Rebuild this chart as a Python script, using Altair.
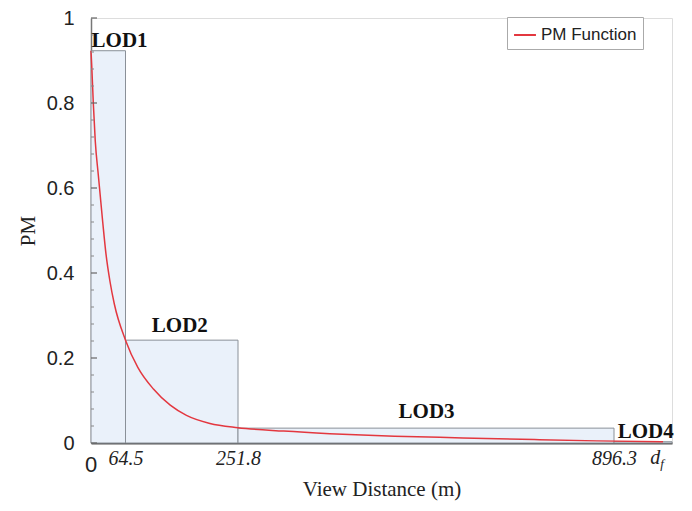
import altair as alt
import pandas as pd

# LOD bands
lod_names = ["LOD1", "LOD2", "LOD3", "LOD4"]
lod_start = [0, 64.5, 251.8, 896.3]
lod_end = [64.5, 251.8, 896.3, 1000]
lod_height = [0.923, 0.242, 0.035, 0.003]

# LOD label positions
lab_x = [1, 155, 575, 903]
lab_y = [0.947, 0.275, 0.072, 0.026]
lab_align = ["left", "center", "center", "left"]

# PM function curve
curve_x = [0, 1.3, 4.3, 8, 13.7, 21.9, 28, 35.5, 43.6, 64.5, 85, 111, 139, 166, 205,
           251.8, 330, 409, 520, 637, 760, 867, 984]
curve_y = [0.923, 0.89, 0.80, 0.71, 0.63, 0.52, 0.445, 0.38, 0.327, 0.242, 0.178,
           0.127, 0.089, 0.065, 0.046, 0.036, 0.028, 0.022, 0.016, 0.012, 0.008, 0.005, 0.003]

# axis breakpoints (the reference x axis is drawn piecewise between these ticks)
x_breaks = [0, 64.5, 251.8, 896.3, 1000]
x_ticks = [64.5, 251.8, 896.3]
y_major = [0, 0.2, 0.4, 0.6, 0.8, 1.0]
y_minor = [0.04, 0.08, 0.12, 0.16, 0.24, 0.28, 0.32, 0.36, 0.44, 0.48, 0.52, 0.56,
           0.64, 0.68, 0.72, 0.76, 0.84, 0.88, 0.92, 0.96]

W, H = 581, 425

bars = pd.DataFrame({"name": lod_names, "x0": lod_start, "x1": lod_end, "h": lod_height})
labels = pd.DataFrame({"name": lod_names, "x": lab_x, "y": lab_y, "align": lab_align})
curve = pd.DataFrame({"d": curve_x, "pm": curve_y, "series": "PM Function"})

xs = alt.Scale(domain=x_breaks, range=[0, 34.5, 147, 523, W], nice=False, zero=False)
ys = alt.Scale(domain=[0, 1], nice=False)

xaxis = alt.Axis(values=x_ticks, format=".1f", labelFont="Liberation Serif", labelFontStyle="italic",
                 labelFontSize=20, labelColor="#222", tickSize=0, labelPadding=5, grid=False,
                 domainColor="#555", domainWidth=2, title="View Distance (m)",
                 titleFont="Liberation Serif", titleFontSize=21, titleFontWeight="normal",
                 titleColor="#222", titlePadding=10)
yaxis = alt.Axis(values=y_major, format="~g", labelFont="Liberation Sans", labelFontSize=20,
                 labelColor="#222", tickSize=0, labelPadding=17, grid=False,
                 domainColor="#777", domainWidth=1.5, title="PM", titleFont="Liberation Serif",
                 titleFontSize=21, titleFontWeight="normal", titleColor="#222", titlePadding=8)

rects = alt.Chart(bars).mark_rect(fill="#eaf1fa", stroke="#8a9098", strokeWidth=1).encode(
    x=alt.X("x0:Q", scale=xs, axis=xaxis),
    x2="x1:Q",
    y=alt.Y("h:Q", scale=ys, axis=yaxis),
    y2=alt.datum(0),
)

line = alt.Chart(curve).mark_line(strokeWidth=1.5, interpolate="monotone").encode(
    x=alt.X("d:Q", scale=xs),
    y=alt.Y("pm:Q", scale=ys),
    color=alt.Color("series:N", scale=alt.Scale(range=["#e3373f"]),
                    legend=alt.Legend(title=None, orient="none", legendX=416, legendY=-1,
                                      strokeColor="#aaa", fillColor="white", padding=6,
                                      symbolType="stroke", symbolStrokeWidth=2, symbolSize=480,
                                      labelFont="Liberation Sans", labelFontSize=17,
                                      labelColor="#222")),
)

text_l = alt.Chart(labels[labels["align"] == "left"]).mark_text(
    font="Liberation Serif", fontSize=21, fontWeight="bold", align="left", baseline="middle",
    color="#111").encode(x=alt.X("x:Q", scale=xs), y=alt.Y("y:Q", scale=ys), text="name:N")
text_c = alt.Chart(labels[labels["align"] == "center"]).mark_text(
    font="Liberation Serif", fontSize=21, fontWeight="bold", align="center", baseline="middle",
    color="#111").encode(x=alt.X("x:Q", scale=xs), y=alt.Y("y:Q", scale=ys), text="name:N")

major = alt.Chart(pd.DataFrame({"v": y_major})).mark_rule(color="#666", strokeWidth=1.2).encode(
    y=alt.Y("v:Q", scale=ys), x=alt.value(0), x2=alt.value(6))
minor = alt.Chart(pd.DataFrame({"v": y_minor})).mark_rule(color="#888", strokeWidth=1).encode(
    y=alt.Y("v:Q", scale=ys), x=alt.value(0), x2=alt.value(3))

zero_lab = alt.Chart(pd.DataFrame({"x": [0], "t": ["0"]})).mark_text(
    font="Liberation Sans", fontSize=22, align="center", baseline="middle", color="#222").encode(
    x=alt.X("x:Q", scale=xs), y=alt.value(H + 22), text="t:N")
d_lab = alt.Chart(pd.DataFrame({"x": [970], "t": ["d"]})).mark_text(
    font="Liberation Serif", fontSize=20, fontStyle="italic", align="center", baseline="middle",
    color="#222").encode(x=alt.X("x:Q", scale=xs), y=alt.value(H + 15), text="t:N")
f_lab = alt.Chart(pd.DataFrame({"x": [970], "t": ["f"]})).mark_text(
    font="Liberation Serif", fontSize=13, fontStyle="italic", align="left", baseline="middle",
    color="#222", dx=5).encode(x=alt.X("x:Q", scale=xs), y=alt.value(H + 21), text="t:N")

chart = alt.layer(rects, line, text_l, text_c, major, minor, zero_lab, d_lab, f_lab).properties(
    width=W, height=H,
    autosize=alt.AutoSizeParams(type="none"),
    padding={"left": 83, "top": 10, "right": 8, "bottom": 58},
).configure_view(stroke=None).configure(background="white")

chart.save("out.html", embed_options={"renderer": "svg", "actions": False})
